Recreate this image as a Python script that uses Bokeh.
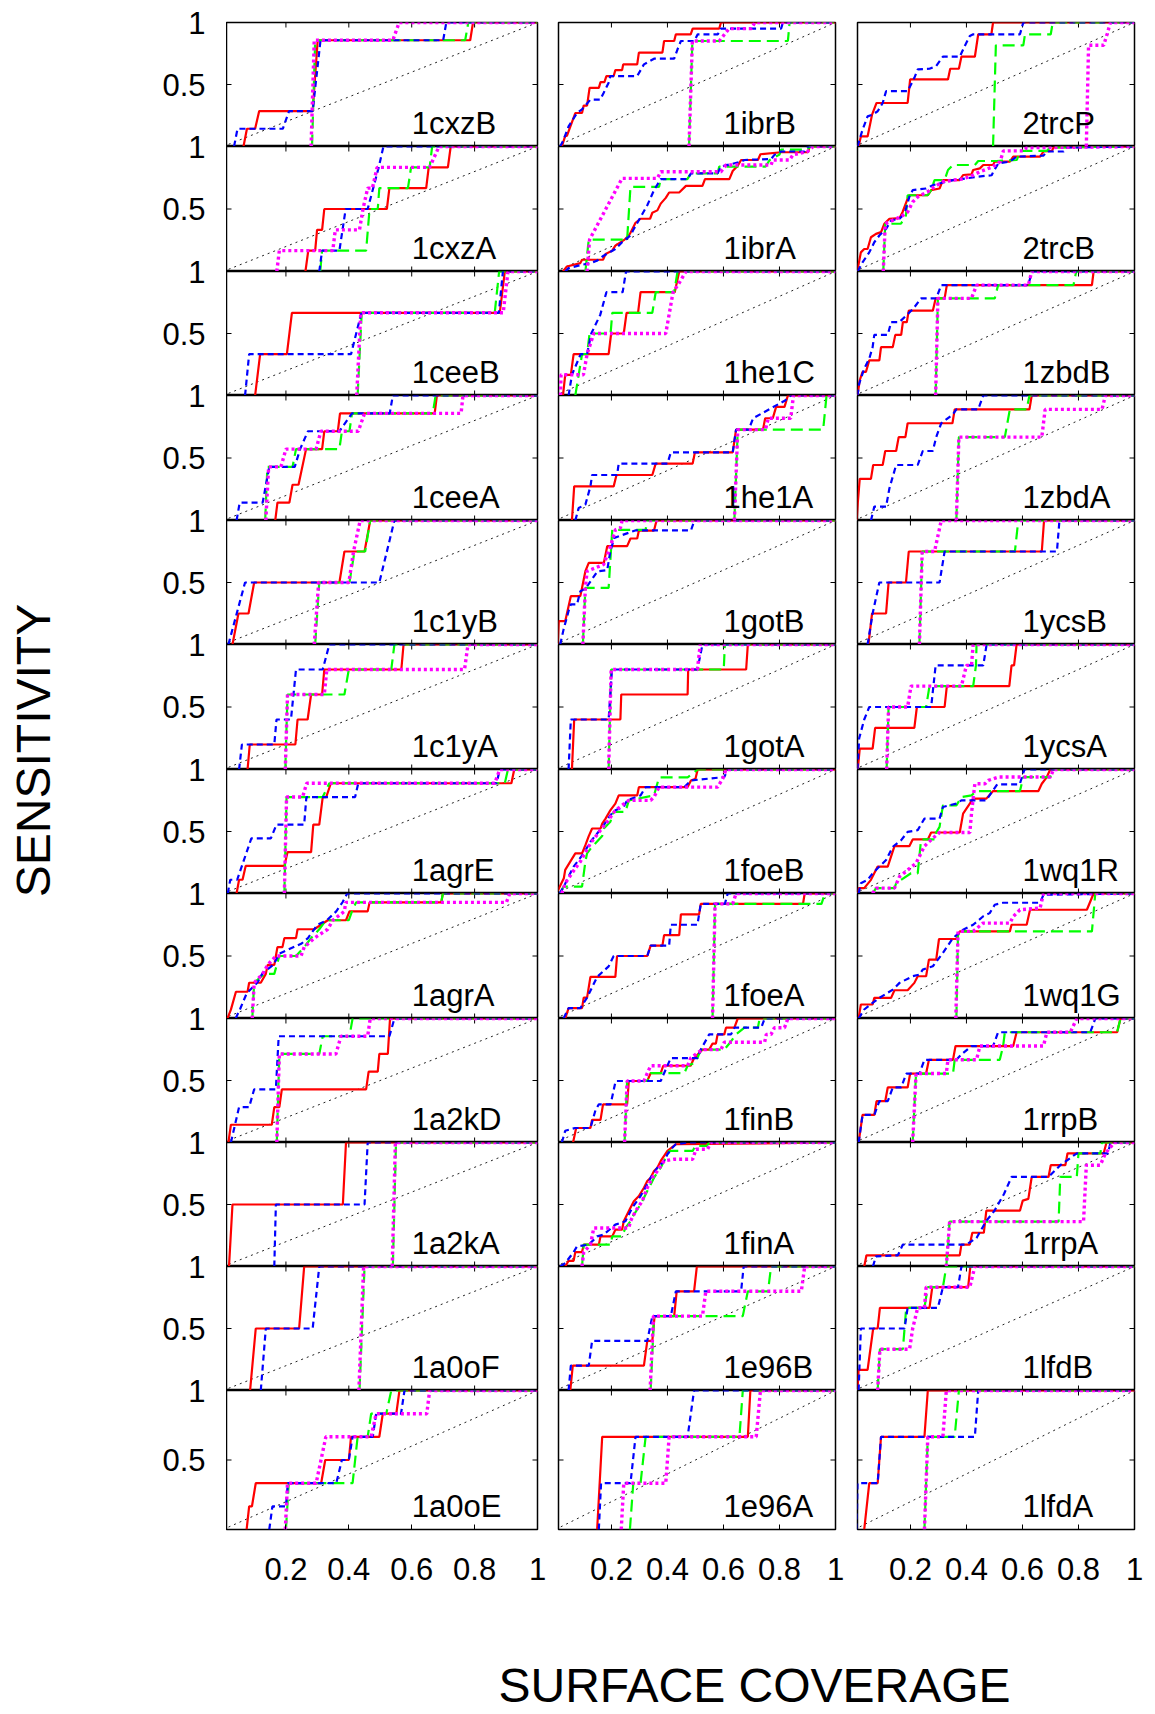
import math
from bokeh.plotting import figure
from bokeh.layouts import gridplot, row, column
from bokeh.models import Range1d, LinearAxis, FixedTicker, NumeralTickFormatter
from bokeh.core.properties import value
from bokeh.embed import file_html
from bokeh.resources import INLINE

# ---------------- data: (surface coverage, sensitivity) vertices ----------------
# r_ = red solid, g_ = green dashed, b_ = blue short dashes, m_ = magenta dotted
r_1cxzB = [(0.065,0),(0.076,0.143),(0.102,0.143),(0.115,0.286),(0.285,0.286),(0.301,0.857),(0.786,0.857),(0.795,1),(1,1)]
g_1cxzB = [(0.283,0),(0.293,0.857),(0.77,0.857),(0.78,1),(1,1)]
b_1cxzB = [(0.035,0),(0.046,0.143),(0.19,0.143),(0.21,0.286),(0.285,0.286),(0.31,0.857),(0.7,0.857),(0.71,1),(1,1)]
m_1cxzB = [(0.28,0),(0.29,0.857),(0.54,0.857),(0.56,1),(1,1)]

r_1cxzA = [(0.262,0),(0.271,0.167),(0.293,0.167),(0.299,0.333),(0.315,0.333),(0.322,0.5),(0.521,0.5),(0.529,0.667),(0.646,0.667),(0.654,0.833),(0.715,0.833),(0.724,1),(1,1)]
g_1cxzA = [(0.309,0),(0.315,0.167),(0.455,0.167),(0.466,0.5),(0.492,0.5),(0.497,0.667),(0.588,0.667),(0.598,0.833),(0.657,0.833),(0.665,1),(1,1)]
b_1cxzA = [(0.306,0),(0.315,0.167),(0.37,0.167),(0.39,0.5),(0.46,0.5),(0.495,0.833),(0.51,1),(1,1)]
m_1cxzA = [(0.171,0),(0.179,0.167),(0.349,0.167),(0.357,0.333),(0.434,0.333),(0.445,0.5),(0.46,0.667),(0.475,0.667),(0.49,0.833),(0.657,0.833),(0.687,1),(1,1)]

r_1ceeB = [(0.102,0),(0.118,0.333),(0.203,0.333),(0.219,0.667),(0.88,0.667),(0.896,1),(1,1)]
g_1ceeB = [(0.428,0),(0.441,0.667),(0.864,0.667),(0.878,1),(1,1)]
b_1ceeB = [(0.07,0),(0.083,0.333),(0.407,0.333),(0.44,0.667),(0.877,0.667),(0.89,1),(1,1)]
m_1ceeB = [(0.425,0),(0.438,0.667),(0.891,0.667),(0.906,1),(1,1)]

r_1ceeA = [(0.166,0),(0.173,0.143),(0.211,0.143),(0.221,0.286),(0.24,0.286),(0.264,0.571),(0.315,0.571),(0.322,0.714),(0.365,0.714),(0.372,0.857),(0.673,0.857),(0.68,1),(1,1)]
g_1ceeA = [(0.134,0),(0.141,0.429),(0.221,0.429),(0.232,0.571),(0.37,0.571),(0.378,0.714),(0.402,0.714),(0.41,0.857),(0.667,0.857),(0.676,1),(1,1)]
b_1ceeA = [(0.043,0),(0.053,0.143),(0.126,0.143),(0.147,0.429),(0.228,0.429),(0.245,0.571),(0.27,0.714),(0.37,0.714),(0.41,0.857),(0.53,0.857),(0.54,1),(1,1)]
m_1ceeA = [(0.136,0),(0.145,0.429),(0.184,0.429),(0.2,0.571),(0.296,0.571),(0.311,0.714),(0.43,0.714),(0.45,0.857),(0.757,0.857),(0.763,1),(1,1)]

r_1c1yB = [(0.03,0),(0.049,0.25),(0.081,0.25),(0.099,0.5),(0.37,0.5),(0.386,0.75),(0.45,0.75),(0.468,1),(1,1)]
g_1c1yB = [(0.293,0),(0.306,0.5),(0.402,0.5),(0.418,0.75),(0.452,0.75),(0.468,1),(1,1)]
b_1c1yB = [(0.017,0),(0.07,0.5),(0.497,0.5),(0.545,1),(1,1)]
m_1c1yB = [(0.29,0),(0.304,0.5),(0.4,0.5),(0.415,0.75),(0.436,1),(1,1)]

r_1c1yA = [(0.078,0),(0.085,0.2),(0.23,0.2),(0.237,0.4),(0.269,0.4),(0.28,0.6),(0.315,0.6),(0.322,0.8),(0.567,0.8),(0.574,1),(1,1)]
g_1c1yA = [(0.198,0),(0.205,0.6),(0.386,0.6),(0.4,0.8),(0.535,0.8),(0.545,1),(1,1)]
b_1c1yA = [(0.051,0),(0.06,0.2),(0.163,0.2),(0.17,0.4),(0.216,0.4),(0.232,0.8),(0.317,0.8),(0.338,1),(1,1)]
m_1c1yA = [(0.198,0),(0.205,0.6),(0.322,0.6),(0.33,0.8),(0.768,0.8),(0.779,1),(1,1)]

r_1agrE = [(0.043,0),(0.051,0.111),(0.062,0.111),(0.072,0.222),(0.195,0.222),(0.205,0.333),(0.28,0.333),(0.287,0.556),(0.306,0.556),(0.317,0.778),(0.328,0.778),(0.343,0.889),(0.917,0.889),(0.926,1),(1,1)]
g_1agrE = [(0.195,0),(0.202,0.778),(0.317,0.778),(0.338,0.889),(0.896,0.889),(0.906,1),(1,1)]
b_1agrE = [(0.015,0),(0.023,0.111),(0.045,0.111),(0.09,0.444),(0.152,0.444),(0.17,0.556),(0.258,0.556),(0.265,0.778),(0.42,0.778),(0.43,0.889),(0.87,0.889),(0.88,1),(1,1)]
m_1agrE = [(0.195,0),(0.202,0.778),(0.253,0.778),(0.266,0.889),(0.864,0.889),(0.88,1),(1,1)]

r_1agrA = [(0.014,0),(0.025,0.071),(0.041,0.214),(0.078,0.214),(0.083,0.286),(0.12,0.286),(0.136,0.357),(0.142,0.429),(0.163,0.429),(0.168,0.5),(0.173,0.571),(0.189,0.571),(0.195,0.643),(0.232,0.643),(0.237,0.714),(0.29,0.714),(0.333,0.786),(0.391,0.786),(0.402,0.857),(0.46,0.857),(0.466,0.929),(0.694,0.929),(0.699,1),(1,1)]
g_1agrA = [(0.093,0),(0.099,0.286),(0.131,0.357),(0.163,0.357),(0.179,0.5),(0.232,0.5),(0.258,0.571),(0.28,0.643),(0.306,0.714),(0.327,0.786),(0.4,0.786),(0.41,0.857),(0.423,0.929),(0.694,0.929),(0.699,1),(1,1)]
b_1agrA = [(0.04,0),(0.055,0.08),(0.075,0.2),(0.11,0.29),(0.125,0.36),(0.16,0.43),(0.18,0.52),(0.25,0.6),(0.27,0.643),(0.3,0.75),(0.33,0.786),(0.36,0.857),(0.38,0.93),(0.395,1),(1,1)]
m_1agrA = [(0.093,0),(0.099,0.286),(0.126,0.357),(0.142,0.429),(0.168,0.5),(0.248,0.5),(0.258,0.571),(0.29,0.643),(0.333,0.714),(0.349,0.786),(0.386,0.857),(0.39,0.929),(0.901,0.929),(0.912,1),(1,1)]

r_1a2kD = [(0.017,0),(0.025,0.143),(0.155,0.143),(0.163,0.286),(0.179,0.286),(0.187,0.429),(0.455,0.429),(0.463,0.571),(0.492,0.571),(0.497,0.714),(0.524,0.714),(0.531,1),(1,1)]
g_1a2kD = [(0.171,0),(0.179,0.714),(0.306,0.714),(0.317,0.857),(0.402,0.857),(0.412,1),(1,1)]
b_1a2kD = [(0.025,0),(0.051,0.286),(0.083,0.286),(0.099,0.429),(0.168,0.429),(0.177,0.857),(0.529,0.857),(0.545,1),(1,1)]
m_1a2kD = [(0.171,0),(0.179,0.714),(0.359,0.714),(0.375,0.857),(0.46,0.857),(0.468,1),(1,1)]

r_1a2kA = [(0.019,0),(0.03,0.5),(0.381,0.5),(0.391,1),(1,1)]
g_1a2kA = [(0.54,0),(0.55,1),(1,1)]
b_1a2kA = [(0.163,0),(0.168,0.5),(0.45,0.5),(0.46,1),(1,1)]
m_1a2kA = [(0.538,0),(0.548,1),(1,1)]

r_1a0oF = [(0.086,0),(0.104,0.5),(0.242,0.5),(0.258,1),(1,1)]
g_1a0oF = [(0.434,0),(0.45,1),(1,1)]
b_1a0oF = [(0.12,0),(0.136,0.5),(0.285,0.5),(0.306,1),(1,1)]
m_1a0oF = [(0.432,0),(0.447,1),(1,1)]

r_1a0oE = [(0.075,0),(0.083,0.167),(0.092,0.167),(0.104,0.333),(0.312,0.333),(0.325,0.5),(0.4,0.5),(0.407,0.667),(0.497,0.667),(0.508,0.833),(0.551,0.833),(0.561,1),(1,1)]
g_1a0oE = [(0.2,0),(0.209,0.333),(0.412,0.333),(0.428,0.667),(0.46,0.667),(0.471,0.833),(0.519,0.833),(0.535,1),(1,1)]
b_1a0oE = [(0.147,0),(0.157,0.167),(0.2,0.167),(0.206,0.333),(0.36,0.333),(0.378,0.5),(0.4,0.5),(0.412,0.667),(0.476,0.667),(0.487,0.833),(0.566,0.833),(0.577,1),(1,1)]
m_1a0oE = [(0.198,0),(0.205,0.333),(0.296,0.333),(0.327,0.667),(0.471,0.667),(0.487,0.833),(0.648,0.833),(0.657,1),(1,1)]

r_1ibrB = [(0.023,0),(0.035,0.086),(0.041,0.086),(0.071,0.27),(0.095,0.27),(0.101,0.33),(0.113,0.33),(0.122,0.473),(0.155,0.473),(0.161,0.519),(0.175,0.519),(0.182,0.568),(0.208,0.568),(0.214,0.616),(0.238,0.616),(0.242,0.662),(0.292,0.662),(0.298,0.757),(0.382,0.757),(0.388,0.851),(0.424,0.851),(0.43,0.905),(0.483,0.905),(0.49,0.951),(0.585,0.951),(0.591,1),(1,1)]
g_1ibrB = [(0.477,0),(0.489,0.851),(0.83,0.851),(0.836,1),(1,1)]
b_1ibrB = [(0.017,0),(0.029,0.054),(0.047,0.162),(0.077,0.27),(0.095,0.3),(0.125,0.378),(0.16,0.378),(0.172,0.432),(0.19,0.514),(0.196,0.568),(0.292,0.568),(0.316,0.662),(0.352,0.708),(0.424,0.708),(0.436,0.784),(0.448,0.851),(0.496,0.851),(0.508,0.905),(0.58,0.905),(0.591,0.951),(0.806,0.951),(0.812,1),(1,1)]
m_1ibrB = [(0.477,0),(0.489,0.851),(0.585,0.851),(0.62,0.951),(0.7,0.951),(0.712,1),(1,1)]

r_1ibrA = [(0.027,0),(0.041,0.04),(0.089,0.067),(0.095,0.094),(0.17,0.094),(0.179,0.14),(0.203,0.167),(0.214,0.207),(0.247,0.255),(0.266,0.301),(0.286,0.39),(0.304,0.422),(0.338,0.422),(0.346,0.47),(0.364,0.489),(0.376,0.543),(0.394,0.589),(0.406,0.632),(0.442,0.632),(0.466,0.685),(0.525,0.685),(0.534,0.739),(0.621,0.739),(0.633,0.804),(0.651,0.847),(0.663,0.892),(0.723,0.892),(0.732,0.938),(0.806,0.954),(0.902,0.954),(0.908,1),(1,1)]
g_1ibrA = [(0.107,0),(0.119,0.255),(0.256,0.255),(0.268,0.677),(0.37,0.677),(0.376,0.739),(0.471,0.739),(0.484,0.785),(0.579,0.785),(0.585,0.839),(0.75,0.839),(0.765,0.892),(0.8,0.935),(0.806,0.975),(0.9,0.975),(0.91,1),(1,1)]
b_1ibrA = [(0.035,0),(0.047,0.027),(0.089,0.051),(0.125,0.067),(0.148,0.086),(0.172,0.126),(0.214,0.18),(0.238,0.234),(0.268,0.288),(0.28,0.341),(0.304,0.435),(0.328,0.53),(0.352,0.651),(0.376,0.739),(0.471,0.739),(0.484,0.785),(0.579,0.785),(0.591,0.839),(0.663,0.879),(0.675,0.892),(0.77,0.9),(0.782,0.933),(0.806,0.96),(0.89,0.96),(0.902,1),(1,1)]
m_1ibrA = [(0.113,0),(0.122,0.255),(0.238,0.745),(0.364,0.745),(0.376,0.798),(0.591,0.798),(0.609,0.852),(0.77,0.852),(0.776,0.892),(0.836,0.892),(0.848,0.933),(0.9,0.96),(0.92,1),(1,1)]

r_1he1C = [(0.027,0),(0.035,0.167),(0.055,0.167),(0.065,0.333),(0.19,0.333),(0.199,0.5),(0.244,0.5),(0.254,0.667),(0.295,0.667),(0.304,0.833),(0.426,0.833),(0.442,1),(1,1)]
g_1he1C = [(0.071,0),(0.083,0.167),(0.095,0.333),(0.113,0.333),(0.122,0.5),(0.197,0.5),(0.203,0.667),(0.346,0.667),(0.358,0.833),(0.424,0.833),(0.436,1),(1,1)]
b_1he1C = [(0.047,0),(0.059,0.167),(0.09,0.333),(0.113,0.333),(0.128,0.5),(0.16,0.65),(0.182,0.833),(0.24,0.833),(0.252,1),(1,1)]
m_1he1C = [(0.018,0),(0.02,0.167),(0.1,0.167),(0.113,0.333),(0.137,0.5),(0.394,0.5),(0.42,0.833),(0.44,0.9),(0.466,1),(1,1)]

r_1he1A = [(0.059,0),(0.067,0.273),(0.208,0.273),(0.218,0.364),(0.346,0.364),(0.358,0.455),(0.49,0.455),(0.498,0.545),(0.633,0.545),(0.645,0.727),(0.741,0.727),(0.749,0.818),(0.776,0.818),(0.788,0.909),(0.818,0.909),(0.83,1),(1,1)]
g_1he1A = [(0.639,0),(0.651,0.727),(0.956,0.727),(0.968,1),(1,1)]
b_1he1A = [(0.071,0),(0.083,0.1),(0.107,0.127),(0.125,0.273),(0.131,0.364),(0.22,0.364),(0.226,0.455),(0.4,0.455),(0.412,0.545),(0.633,0.545),(0.645,0.727),(0.69,0.727),(0.706,0.818),(0.82,0.96),(0.84,1),(1,1)]
m_1he1A = [(0.639,0),(0.651,0.727),(0.75,0.727),(0.76,0.818),(0.84,0.818),(0.85,1),(1,1)]

r_1gotB = [(0.008,0),(0.012,0.188),(0.035,0.188),(0.055,0.39),(0.089,0.39),(0.107,0.591),(0.119,0.659),(0.173,0.659),(0.185,0.793),(0.256,0.793),(0.268,0.855),(0.292,0.855),(0.298,0.919),(0.352,0.919),(0.361,1),(1,1)]
g_1gotB = [(0.098,0),(0.107,0.457),(0.19,0.457),(0.203,0.925),(0.322,0.925),(0.328,1),(1,1)]
b_1gotB = [(0.017,0),(0.029,0.12),(0.047,0.27),(0.055,0.323),(0.077,0.323),(0.089,0.43),(0.107,0.45),(0.15,0.59),(0.185,0.6),(0.196,0.75),(0.21,0.86),(0.285,0.92),(0.484,0.92),(0.496,1),(1,1)]
m_1gotB = [(0.098,0),(0.107,0.457),(0.113,0.591),(0.172,0.645),(0.197,0.793),(0.214,0.925),(0.232,0.94),(0.238,1),(1,1)]

r_1gotA = [(0.059,0),(0.067,0.4),(0.232,0.4),(0.235,0.6),(0.472,0.6),(0.474,0.8),(0.681,0.8),(0.687,1),(1,1)]
g_1gotA = [(0.19,0),(0.199,0.8),(0.601,0.8),(0.605,1),(1,1)]
b_1gotA = [(0.047,0),(0.055,0.4),(0.19,0.4),(0.202,0.8),(0.507,0.8),(0.525,1),(1,1)]
m_1gotA = [(0.19,0),(0.199,0.8),(0.507,0.8),(0.517,1),(1,1)]

r_1foeB = [(0.008,0.02),(0.03,0.123),(0.035,0.19),(0.053,0.257),(0.071,0.324),(0.095,0.324),(0.107,0.39),(0.119,0.463),(0.131,0.524),(0.161,0.524),(0.167,0.564),(0.179,0.604),(0.196,0.671),(0.214,0.725),(0.226,0.791),(0.292,0.791),(0.298,0.858),(0.472,0.858),(0.484,0.912),(0.5,0.925),(0.508,1),(1,1)]
g_1foeB = [(0.017,0),(0.029,0.056),(0.095,0.056),(0.107,0.257),(0.113,0.324),(0.131,0.377),(0.167,0.463),(0.173,0.524),(0.196,0.578),(0.208,0.658),(0.25,0.658),(0.262,0.751),(0.352,0.791),(0.37,0.936),(0.472,0.936),(0.508,1),(1,1)]
b_1foeB = [(0.015,0),(0.03,0.056),(0.047,0.136),(0.065,0.217),(0.083,0.27),(0.101,0.324),(0.125,0.417),(0.149,0.484),(0.172,0.55),(0.196,0.631),(0.214,0.671),(0.244,0.7),(0.256,0.753),(0.304,0.791),(0.322,0.858),(0.46,0.858),(0.484,0.912),(0.603,0.939),(0.615,1),(1,1)]
m_1foeB = [(0.023,0),(0.035,0.083),(0.071,0.203),(0.089,0.257),(0.125,0.404),(0.161,0.51),(0.185,0.578),(0.214,0.671),(0.262,0.751),(0.34,0.751),(0.352,0.778),(0.37,0.858),(0.579,0.858),(0.597,0.925),(0.609,1),(1,1)]

r_1foeA = [(0.035,0),(0.047,0.083),(0.095,0.083),(0.101,0.167),(0.113,0.167),(0.125,0.333),(0.214,0.333),(0.22,0.5),(0.328,0.5),(0.34,0.583),(0.382,0.583),(0.388,0.667),(0.442,0.667),(0.448,0.833),(0.513,0.833),(0.519,0.917),(0.884,0.917),(0.89,1),(1,1)]
g_1foeA = [(0.561,0),(0.57,0.917),(0.95,0.917),(0.962,1),(1,1)]
b_1foeA = [(0.029,0),(0.047,0.083),(0.089,0.083),(0.113,0.167),(0.131,0.25),(0.149,0.333),(0.19,0.417),(0.208,0.5),(0.328,0.5),(0.34,0.583),(0.406,0.583),(0.412,0.75),(0.507,0.75),(0.519,0.917),(0.605,0.917),(0.615,1),(1,1)]
m_1foeA = [(0.561,0),(0.57,0.917),(0.633,0.917),(0.645,1),(1,1)]

r_1finB = [(0.063,0),(0.074,0.117),(0.125,0.117),(0.131,0.183),(0.161,0.183),(0.17,0.308),(0.256,0.308),(0.262,0.496),(0.328,0.496),(0.34,0.559),(0.376,0.559),(0.385,0.619),(0.483,0.619),(0.495,0.681),(0.507,0.708),(0.525,0.749),(0.549,0.749),(0.561,0.798),(0.573,0.798),(0.579,0.872),(0.603,0.872),(0.609,0.926),(0.639,0.926),(0.651,1),(1,1)]
g_1finB = [(0.247,0),(0.256,0.496),(0.328,0.496),(0.34,0.559),(0.46,0.559),(0.472,0.619),(0.495,0.64),(0.507,0.681),(0.519,0.749),(0.603,0.749),(0.621,0.798),(0.645,0.872),(0.675,0.926),(0.723,0.926),(0.729,1),(1,1)]
b_1finB = [(0.023,0),(0.035,0.095),(0.07,0.117),(0.125,0.117),(0.143,0.26),(0.155,0.308),(0.197,0.308),(0.215,0.496),(0.376,0.496),(0.388,0.559),(0.412,0.681),(0.507,0.681),(0.519,0.749),(0.549,0.872),(0.627,0.872),(0.639,0.926),(0.735,0.926),(0.747,1),(1,1)]
m_1finB = [(0.247,0),(0.256,0.496),(0.316,0.496),(0.328,0.559),(0.34,0.619),(0.472,0.619),(0.483,0.681),(0.507,0.722),(0.525,0.749),(0.591,0.749),(0.603,0.809),(0.747,0.809),(0.753,0.872),(0.77,0.872),(0.782,0.926),(0.818,0.926),(0.83,1),(1,1)]

r_1finA = [(0.035,0),(0.047,0.046),(0.065,0.046),(0.071,0.116),(0.095,0.116),(0.101,0.176),(0.155,0.176),(0.161,0.243),(0.203,0.243),(0.214,0.297),(0.238,0.297),(0.244,0.365),(0.256,0.419),(0.268,0.473),(0.28,0.527),(0.298,0.568),(0.316,0.635),(0.328,0.689),(0.34,0.716),(0.352,0.77),(0.364,0.797),(0.376,0.851),(0.388,0.892),(0.4,0.932),(0.43,0.986),(1,1)]
g_1finA = [(0.095,0),(0.101,0.176),(0.197,0.176),(0.203,0.243),(0.238,0.243),(0.25,0.311),(0.268,0.365),(0.28,0.419),(0.304,0.5),(0.328,0.608),(0.352,0.716),(0.376,0.797),(0.394,0.878),(0.406,0.932),(0.49,0.932),(0.5,0.973),(0.54,0.973),(0.55,1),(1,1)]
b_1finA = [(0.017,0),(0.035,0.027),(0.065,0.116),(0.077,0.162),(0.119,0.176),(0.149,0.243),(0.172,0.257),(0.214,0.338),(0.25,0.365),(0.262,0.419),(0.274,0.473),(0.304,0.568),(0.328,0.662),(0.34,0.716),(0.364,0.797),(0.388,0.851),(0.4,0.905),(0.418,0.959),(0.43,0.986),(0.472,1),(1,1)]
m_1finA = [(0.095,0),(0.101,0.116),(0.125,0.176),(0.137,0.311),(0.262,0.311),(0.268,0.365),(0.286,0.446),(0.31,0.527),(0.328,0.635),(0.346,0.716),(0.364,0.77),(0.388,0.851),(0.424,0.865),(0.49,0.865),(0.502,0.946),(0.543,0.946),(0.555,1),(1,1)]

r_1e96B = [(0.053,0),(0.062,0.2),(0.316,0.2),(0.328,0.4),(0.346,0.4),(0.354,0.6),(0.424,0.6),(0.433,0.8),(0.495,0.8),(0.505,1),(1,1)]
g_1e96B = [(0.34,0),(0.352,0.6),(0.669,0.6),(0.687,0.8),(0.759,0.8),(0.77,1),(1,1)]
b_1e96B = [(0.047,0),(0.055,0.2),(0.119,0.2),(0.131,0.4),(0.328,0.4),(0.346,0.6),(0.412,0.6),(0.43,0.8),(0.663,0.8),(0.672,1),(1,1)]
m_1e96B = [(0.338,0),(0.35,0.6),(0.525,0.6),(0.537,0.8),(0.878,0.8),(0.89,1),(1,1)]

r_1e96A = [(0.149,0),(0.167,0.667),(0.687,0.667),(0.696,1),(1,1)]
g_1e96A = [(0.266,0),(0.278,0.333),(0.304,0.333),(0.322,0.667),(0.657,0.667),(0.669,1),(1,1)]
b_1e96A = [(0.155,0),(0.163,0.333),(0.268,0.333),(0.286,0.667),(0.472,0.667),(0.495,1),(1,1)]
m_1e96A = [(0.235,0),(0.244,0.333),(0.394,0.333),(0.406,0.667),(0.717,0.667),(0.732,1),(1,1)]

r_2trcP = [(0.015,0),(0.023,0.081),(0.047,0.081),(0.063,0.257),(0.079,0.351),(0.19,0.351),(0.199,0.541),(0.334,0.541),(0.342,0.627),(0.373,0.627),(0.382,0.724),(0.43,0.724),(0.442,0.905),(0.489,0.905),(0.495,1),(1,1)]
g_2trcP = [(0.495,0),(0.505,0.816),(0.603,0.816),(0.609,0.905),(0.701,0.905),(0.708,1),(1,1)]
b_2trcP = [(0.011,0),(0.029,0.135),(0.047,0.243),(0.065,0.257),(0.083,0.284),(0.101,0.351),(0.113,0.446),(0.19,0.446),(0.214,0.554),(0.226,0.622),(0.268,0.627),(0.292,0.65),(0.316,0.724),(0.376,0.724),(0.394,0.811),(0.412,0.892),(0.424,0.905),(0.591,0.905),(0.603,1),(1,1)]
m_2trcP = [(0.828,0),(0.836,0.816),(0.89,0.816),(0.902,0.905),(0.914,1),(1,1)]

r_2trcB = [(0.008,0),(0.015,0.059),(0.023,0.153),(0.035,0.18),(0.047,0.18),(0.059,0.274),(0.077,0.301),(0.095,0.315),(0.107,0.382),(0.125,0.422),(0.161,0.427),(0.172,0.476),(0.19,0.583),(0.196,0.61),(0.262,0.61),(0.274,0.651),(0.304,0.664),(0.316,0.731),(0.376,0.731),(0.388,0.772),(0.418,0.777),(0.424,0.812),(0.448,0.825),(0.46,0.852),(0.495,0.852),(0.501,0.879),(0.555,0.879),(0.567,0.919),(0.663,0.919),(0.675,0.96),(0.705,0.965),(0.711,0.992),(1,1)]
g_2trcB = [(0.103,0),(0.11,0.382),(0.166,0.382),(0.184,0.449),(0.19,0.61),(0.262,0.61),(0.274,0.651),(0.286,0.731),(0.322,0.731),(0.334,0.812),(0.352,0.852),(0.43,0.852),(0.442,0.884),(0.508,0.884),(0.58,0.892),(0.591,0.965),(0.687,0.965),(0.699,0.992),(1,1)]
b_2trcB = [(0.011,0),(0.029,0.073),(0.053,0.153),(0.071,0.234),(0.089,0.288),(0.113,0.341),(0.131,0.409),(0.161,0.422),(0.179,0.462),(0.196,0.597),(0.208,0.651),(0.256,0.664),(0.28,0.691),(0.328,0.718),(0.352,0.731),(0.4,0.745),(0.436,0.758),(0.49,0.77),(0.496,0.798),(0.514,0.866),(0.555,0.879),(0.579,0.919),(0.675,0.927),(0.687,0.96),(0.747,0.96),(0.759,0.992),(1,1)]
m_2trcB = [(0.103,0),(0.11,0.382),(0.149,0.422),(0.173,0.449),(0.19,0.476),(0.208,0.556),(0.226,0.597),(0.262,0.638),(0.286,0.678),(0.316,0.718),(0.352,0.731),(0.382,0.739),(0.412,0.758),(0.448,0.798),(0.495,0.839),(0.52,0.879),(0.532,0.965),(0.603,0.965),(0.615,0.99),(1,1)]

r_1zbdB = [(0.011,0),(0.019,0.123),(0.029,0.19),(0.041,0.19),(0.053,0.283),(0.089,0.283),(0.095,0.39),(0.137,0.39),(0.146,0.489),(0.167,0.489),(0.173,0.591),(0.187,0.591),(0.194,0.684),(0.28,0.684),(0.29,0.783),(0.322,0.783),(0.33,0.89),(0.848,0.89),(0.854,1),(1,1)]
g_1zbdB = [(0.29,0),(0.298,0.783),(0.501,0.783),(0.513,0.89),(0.782,0.89),(0.792,1),(1,1)]
b_1zbdB = [(0.011,0),(0.017,0.096),(0.035,0.217),(0.053,0.297),(0.065,0.39),(0.071,0.489),(0.119,0.489),(0.131,0.591),(0.16,0.591),(0.21,0.7),(0.238,0.783),(0.292,0.783),(0.31,0.89),(0.62,0.89),(0.635,1),(1,1)]
m_1zbdB = [(0.29,0),(0.298,0.783),(0.418,0.783),(0.436,0.89),(0.621,0.89),(0.633,1),(1,1)]

r_1zbdA = [(0.008,0),(0.012,0.14),(0.019,0.333),(0.059,0.333),(0.067,0.444),(0.101,0.444),(0.11,0.556),(0.149,0.556),(0.158,0.667),(0.182,0.667),(0.19,0.778),(0.35,0.778),(0.358,0.889),(0.625,0.889),(0.633,1),(1,1)]
g_1zbdA = [(0.364,0),(0.373,0.667),(0.537,0.667),(0.555,0.889),(0.615,0.889),(0.625,1),(1,1)]
b_1zbdA = [(0.059,0),(0.071,0.111),(0.113,0.111),(0.125,0.258),(0.149,0.444),(0.226,0.444),(0.244,0.556),(0.28,0.556),(0.292,0.667),(0.31,0.778),(0.352,0.85),(0.364,0.889),(0.442,0.889),(0.46,1),(1,1)]
m_1zbdA = [(0.364,0),(0.373,0.667),(0.669,0.667),(0.681,0.889),(0.884,0.889),(0.896,1),(1,1)]

r_1ycsB = [(0.05,0),(0.063,0.25),(0.113,0.25),(0.122,0.5),(0.184,0.5),(0.194,0.75),(0.669,0.75),(0.677,1),(1,1)]
g_1ycsB = [(0.232,0),(0.242,0.75),(0.573,0.75),(0.585,1),(1,1)]
b_1ycsB = [(0.047,0),(0.065,0.25),(0.089,0.5),(0.304,0.5),(0.322,0.75),(0.723,0.75),(0.732,1),(1,1)]
m_1ycsB = [(0.232,0),(0.242,0.75),(0.286,0.75),(0.31,1),(1,1)]

r_1ycsA = [(0.012,0),(0.019,0.167),(0.065,0.167),(0.074,0.333),(0.214,0.333),(0.223,0.5),(0.322,0.5),(0.33,0.667),(0.553,0.667),(0.561,0.833),(0.57,0.833),(0.579,1),(1,1)]
g_1ycsA = [(0.115,0),(0.122,0.5),(0.256,0.5),(0.268,0.667),(0.424,0.667),(0.434,0.833),(0.436,1),(1,1)]
b_1ycsA = [(0.011,0),(0.017,0.25),(0.035,0.4),(0.053,0.5),(0.274,0.5),(0.29,0.833),(0.46,0.833),(0.472,1),(1,1)]
m_1ycsA = [(0.115,0),(0.122,0.5),(0.19,0.5),(0.202,0.667),(0.382,0.667),(0.4,0.833),(0.418,0.833),(0.424,1),(1,1)]

r_1wq1R = [(0.011,0),(0.015,0.043),(0.035,0.043),(0.059,0.11),(0.083,0.217),(0.119,0.217),(0.143,0.382),(0.196,0.382),(0.208,0.436),(0.262,0.436),(0.274,0.492),(0.376,0.492),(0.388,0.644),(0.424,0.765),(0.471,0.765),(0.495,0.826),(0.657,0.826),(0.669,0.885),(0.687,0.939),(0.699,1),(1,1)]
g_1wq1R = [(0.065,0),(0.077,0.043),(0.143,0.043),(0.149,0.083),(0.202,0.163),(0.226,0.163),(0.238,0.436),(0.286,0.436),(0.292,0.492),(0.304,0.537),(0.316,0.711),(0.364,0.711),(0.382,0.778),(0.418,0.791),(0.436,0.826),(0.591,0.826),(0.603,0.939),(0.699,0.939),(0.711,1),(1,1)]
b_1wq1R = [(0.015,0),(0.023,0.083),(0.047,0.11),(0.065,0.163),(0.089,0.217),(0.113,0.27),(0.137,0.377),(0.167,0.43),(0.19,0.497),(0.226,0.511),(0.25,0.604),(0.304,0.604),(0.316,0.698),(0.364,0.725),(0.382,0.751),(0.47,0.751),(0.51,0.88),(0.59,0.88),(0.607,1),(1,1)]
m_1wq1R = [(0.065,0),(0.077,0.043),(0.143,0.043),(0.161,0.136),(0.22,0.244),(0.25,0.382),(0.28,0.446),(0.304,0.492),(0.412,0.492),(0.418,0.644),(0.43,0.885),(0.466,0.885),(0.478,0.912),(0.513,0.939),(0.7,0.939),(0.711,1),(1,1)]

r_1wq1G = [(0.015,0),(0.023,0.112),(0.065,0.112),(0.071,0.165),(0.131,0.165),(0.143,0.226),(0.19,0.226),(0.214,0.285),(0.226,0.338),(0.256,0.338),(0.266,0.471),(0.292,0.471),(0.302,0.636),(0.364,0.636),(0.376,0.697),(0.555,0.697),(0.561,0.75),(0.615,0.75),(0.627,0.87),(0.83,0.87),(0.854,1),(1,1)]
g_1wq1G = [(0.364,0),(0.37,0.697),(0.848,0.697),(0.86,1),(1,1)]
b_1wq1G = [(0.015,0),(0.035,0.072),(0.065,0.125),(0.089,0.165),(0.137,0.231),(0.161,0.285),(0.208,0.338),(0.232,0.351),(0.244,0.391),(0.28,0.418),(0.316,0.524),(0.352,0.644),(0.388,0.71),(0.424,0.75),(0.459,0.816),(0.483,0.843),(0.501,0.91),(0.531,0.926),(0.663,0.926),(0.675,0.99),(1,1)]
m_1wq1G = [(0.362,0),(0.37,0.697),(0.424,0.697),(0.459,0.763),(0.555,0.763),(0.567,0.816),(0.591,0.87),(0.663,0.883),(0.675,1),(1,1)]

r_1rrpB = [(0.015,0),(0.029,0.222),(0.071,0.222),(0.079,0.333),(0.11,0.333),(0.119,0.444),(0.19,0.444),(0.199,0.556),(0.256,0.556),(0.266,0.667),(0.352,0.667),(0.361,0.778),(0.567,0.778),(0.579,0.889),(0.938,0.889),(0.95,1),(1,1)]
g_1rrpB = [(0.208,0),(0.22,0.556),(0.352,0.556),(0.358,0.667),(0.519,0.667),(0.531,0.778),(0.537,0.889),(0.938,0.889),(0.95,1),(1,1)]
b_1rrpB = [(0.015,0),(0.029,0.222),(0.071,0.222),(0.089,0.333),(0.119,0.333),(0.137,0.444),(0.167,0.444),(0.185,0.556),(0.232,0.556),(0.25,0.667),(0.364,0.667),(0.382,0.71),(0.418,0.778),(0.495,0.778),(0.513,0.889),(0.842,0.889),(0.86,1),(1,1)]
m_1rrpB = [(0.208,0),(0.22,0.556),(0.328,0.556),(0.334,0.667),(0.436,0.667),(0.448,0.778),(0.675,0.778),(0.687,0.889),(0.771,0.889),(0.794,1),(1,1)]

r_1rrpA = [(0.035,0),(0.043,0.09),(0.376,0.09),(0.382,0.177),(0.412,0.177),(0.421,0.272),(0.462,0.272),(0.471,0.45),(0.591,0.45),(0.601,0.531),(0.621,0.545),(0.633,0.722),(0.693,0.722),(0.701,0.817),(0.753,0.817),(0.761,0.913),(0.89,0.913),(0.9,1),(1,1)]
g_1rrpA = [(0.328,0),(0.34,0.362),(0.729,0.362),(0.735,0.722),(0.794,0.722),(0.8,0.913),(0.878,0.913),(0.884,1),(1,1)]
b_1rrpA = [(0.066,0),(0.077,0.082),(0.155,0.09),(0.173,0.177),(0.4,0.177),(0.436,0.23),(0.471,0.368),(0.5,0.45),(0.534,0.585),(0.561,0.722),(0.693,0.722),(0.735,0.817),(0.794,0.913),(0.906,0.913),(0.914,1),(1,1)]
m_1rrpA = [(0.328,0),(0.34,0.362),(0.818,0.362),(0.828,0.817),(0.878,0.817),(0.896,0.913),(0.914,0.96),(0.926,1),(1,1)]

r_1lfdB = [(0.011,0),(0.015,0.167),(0.047,0.167),(0.067,0.5),(0.083,0.5),(0.091,0.667),(0.268,0.667),(0.278,0.833),(0.406,0.833),(0.414,1),(1,1)]
g_1lfdB = [(0.083,0),(0.091,0.333),(0.173,0.333),(0.185,0.667),(0.25,0.667),(0.262,0.833),(0.316,0.833),(0.328,1),(1,1)]
b_1lfdB = [(0.015,0),(0.023,0.5),(0.179,0.5),(0.19,0.667),(0.298,0.667),(0.316,0.833),(0.37,0.833),(0.382,1),(1,1)]
m_1lfdB = [(0.083,0),(0.091,0.333),(0.197,0.333),(0.208,0.5),(0.226,0.667),(0.25,0.667),(0.256,0.833),(0.412,0.833),(0.43,1),(1,1)]

r_1lfdA = [(0.035,0),(0.053,0.333),(0.083,0.333),(0.095,0.667),(0.25,0.667),(0.262,1),(1,1)]
g_1lfdA = [(0.25,0),(0.262,0.667),(0.358,0.667),(0.373,1),(1,1)]
b_1lfdA = [(0.008,0),(0.011,0.333),(0.083,0.333),(0.095,0.667),(0.43,0.667),(0.442,1),(1,1)]
m_1lfdA = [(0.25,0),(0.262,0.667),(0.316,0.667),(0.328,1),(1,1)]

PANELS = [
    ["1cxzB", "1ibrB", "2trcP"],
    ["1cxzA", "1ibrA", "2trcB"],
    ["1ceeB", "1he1C", "1zbdB"],
    ["1ceeA", "1he1A", "1zbdA"],
    ["1c1yB", "1gotB", "1ycsB"],
    ["1c1yA", "1gotA", "1ycsA"],
    ["1agrE", "1foeB", "1wq1R"],
    ["1agrA", "1foeA", "1wq1G"],
    ["1a2kD", "1finB", "1rrpB"],
    ["1a2kA", "1finA", "1rrpA"],
    ["1a0oF", "1e96B", "1lfdB"],
    ["1a0oE", "1e96A", "1lfdA"],
]
X_TICKS = [0.2, 0.4, 0.6, 0.8, 1.0]
Y_TICKS = [0.5, 1.0]
DIAG_X = [0.0, 1.0]
DIAG_Y = [0.0, 1.0]
X_LABEL = "SURFACE COVERAGE"
Y_LABEL = "SENSITIVITY"

# ---------------- layout / style constants (page pixels; Bokeh page has no body margin) ----------------
FONT = "Liberation Sans"
X_MIN = 0.011
COL_W = [311, 277, 277]
BORDER_L = [0, 11, 11]
BORDER_R = [10, 11, 13]
ROW_H = [124, 125, 124, 125, 124, 125, 124, 125, 124, 124, 124, 139]
TOP_PAD = 22
BOTTOM_PAD = 70
STRIP_W = 226
TICK_PX = 5
NROWS = len(PANELS)
PAGE_H = 1714

SERIES = [  # prefix, colour, width, dash  (plot order: red, green, blue, magenta)
    ("r_", "#ff0000", 2.2, "solid"),
    ("g_", "#00ff00", 2.2, "12 6"),
    ("b_", "#0000ff", 2.2, "6 4"),
    ("m_", "#ff00ff", 3.4, "3 3"),
]


def make_panel(r, c, name):
    last = (r == NROWS - 1)
    h, w = ROW_H[r], COL_W[c]
    p = figure(frame_width=w, frame_height=h,
               x_range=Range1d(X_MIN, 1.0), y_range=Range1d(0.0, 1.0),
               min_border_left=BORDER_L[c], min_border_right=BORDER_R[c],
               min_border_top=TOP_PAD if r == 0 else 0,
               min_border_bottom=BOTTOM_PAD if last else 0,
               x_axis_location=None, y_axis_location=None,
               toolbar_location=None, output_backend="svg",
               outline_line_color="black", outline_line_width=1.5)
    p.grid.visible = False

    # inward tick marks on all four sides
    ty = TICK_PX / h
    tx = TICK_PX * (1.0 - X_MIN) / w
    n = len(X_TICKS)
    if not last:
        p.segment(x0=X_TICKS, y0=[0.0] * n, x1=X_TICKS, y1=[ty] * n, line_color="black", line_width=1)
    p.segment(x0=X_TICKS, y0=[1.0] * n, x1=X_TICKS, y1=[1.0 - ty] * n, line_color="black", line_width=1)
    m = len(Y_TICKS)
    p.segment(x0=[X_MIN] * m, y0=Y_TICKS, x1=[X_MIN + tx] * m, y1=Y_TICKS, line_color="black", line_width=1)
    p.segment(x0=[1.0] * m, y0=Y_TICKS, x1=[1.0 - tx] * m, y1=Y_TICKS, line_color="black", line_width=1)

    if last:
        ax = LinearAxis(ticker=FixedTicker(ticks=X_TICKS, minor_ticks=[]),
                        formatter=NumeralTickFormatter(format="0.[0]"),
                        axis_line_color=None,
                        major_tick_line_color="black", major_tick_line_width=1,
                        major_tick_in=TICK_PX, major_tick_out=0,
                        minor_tick_line_color=None,
                        major_label_standoff=28,
                        major_label_text_font=FONT,
                        major_label_text_font_size="31px",
                        major_label_text_color="black")
        p.add_layout(ax, "below")

    p.line(DIAG_X, DIAG_Y, line_color="#222222", line_width=1, line_dash="2 4")
    for prefix, color, width, dash in SERIES:
        pts = globals()[prefix + name]
        xs = [pt[0] for pt in pts]
        ys = [pt[1] for pt in pts]
        p.line(xs, ys, line_color=color, line_width=width, line_dash=dash)
    # label: cap centre ~23px above the bottom border
    p.text(x=[0.6], y=[23.0 / h], text=[name], text_font=value(FONT),
           text_font_size="31px", text_align="left", text_baseline="middle",
           text_color="black")
    return p


grid_rows = [[make_panel(r, c, name) for c, name in enumerate(names)]
             for r, names in enumerate(PANELS)]
grid = gridplot(grid_rows, toolbar_location=None)

grid_h = TOP_PAD + sum(ROW_H) + BOTTOM_PAD

# left strip: y tick labels + y axis title (page-pixel coordinates)
strip = figure(width=STRIP_W, height=grid_h,
               x_range=Range1d(0, STRIP_W), y_range=Range1d(grid_h, 0),
               min_border=0, x_axis_location=None, y_axis_location=None,
               toolbar_location=None, output_backend="svg", outline_line_color=None)
strip.grid.visible = False
lab_x, lab_y, lab_t = [], [], []
top = TOP_PAD
for h in ROW_H:
    for v in Y_TICKS:
        lab_x.append(STRIP_W - 21)
        lab_y.append(top + (1 - v) * h)
        lab_t.append(f"{v:g}")
    top += h
strip.text(x=lab_x, y=lab_y, text=lab_t, text_font=value(FONT), text_font_size="31px",
           text_align="right", text_baseline="middle", text_color="black")
strip.text(x=[33], y=[750], text=[Y_LABEL], angle=math.pi / 2, text_font=value(FONT),
           text_font_size="48px", text_align="center", text_baseline="middle",
           text_color="black")

total_w = STRIP_W + sum(COL_W) + sum(BORDER_L) + sum(BORDER_R)
bottom_h = PAGE_H - grid_h
bottom = figure(width=total_w, height=bottom_h,
                x_range=Range1d(0, total_w), y_range=Range1d(PAGE_H, grid_h),
                min_border=0, x_axis_location=None, y_axis_location=None,
                toolbar_location=None, output_backend="svg", outline_line_color=None)
bottom.grid.visible = False
bottom.text(x=[754], y=[1685], text=[X_LABEL], text_font=value(FONT),
            text_font_size="48px", text_align="center", text_baseline="middle",
            text_color="black")

layout = column(row(strip, grid), bottom)
open("out.html", "w").write(file_html(layout, INLINE))
